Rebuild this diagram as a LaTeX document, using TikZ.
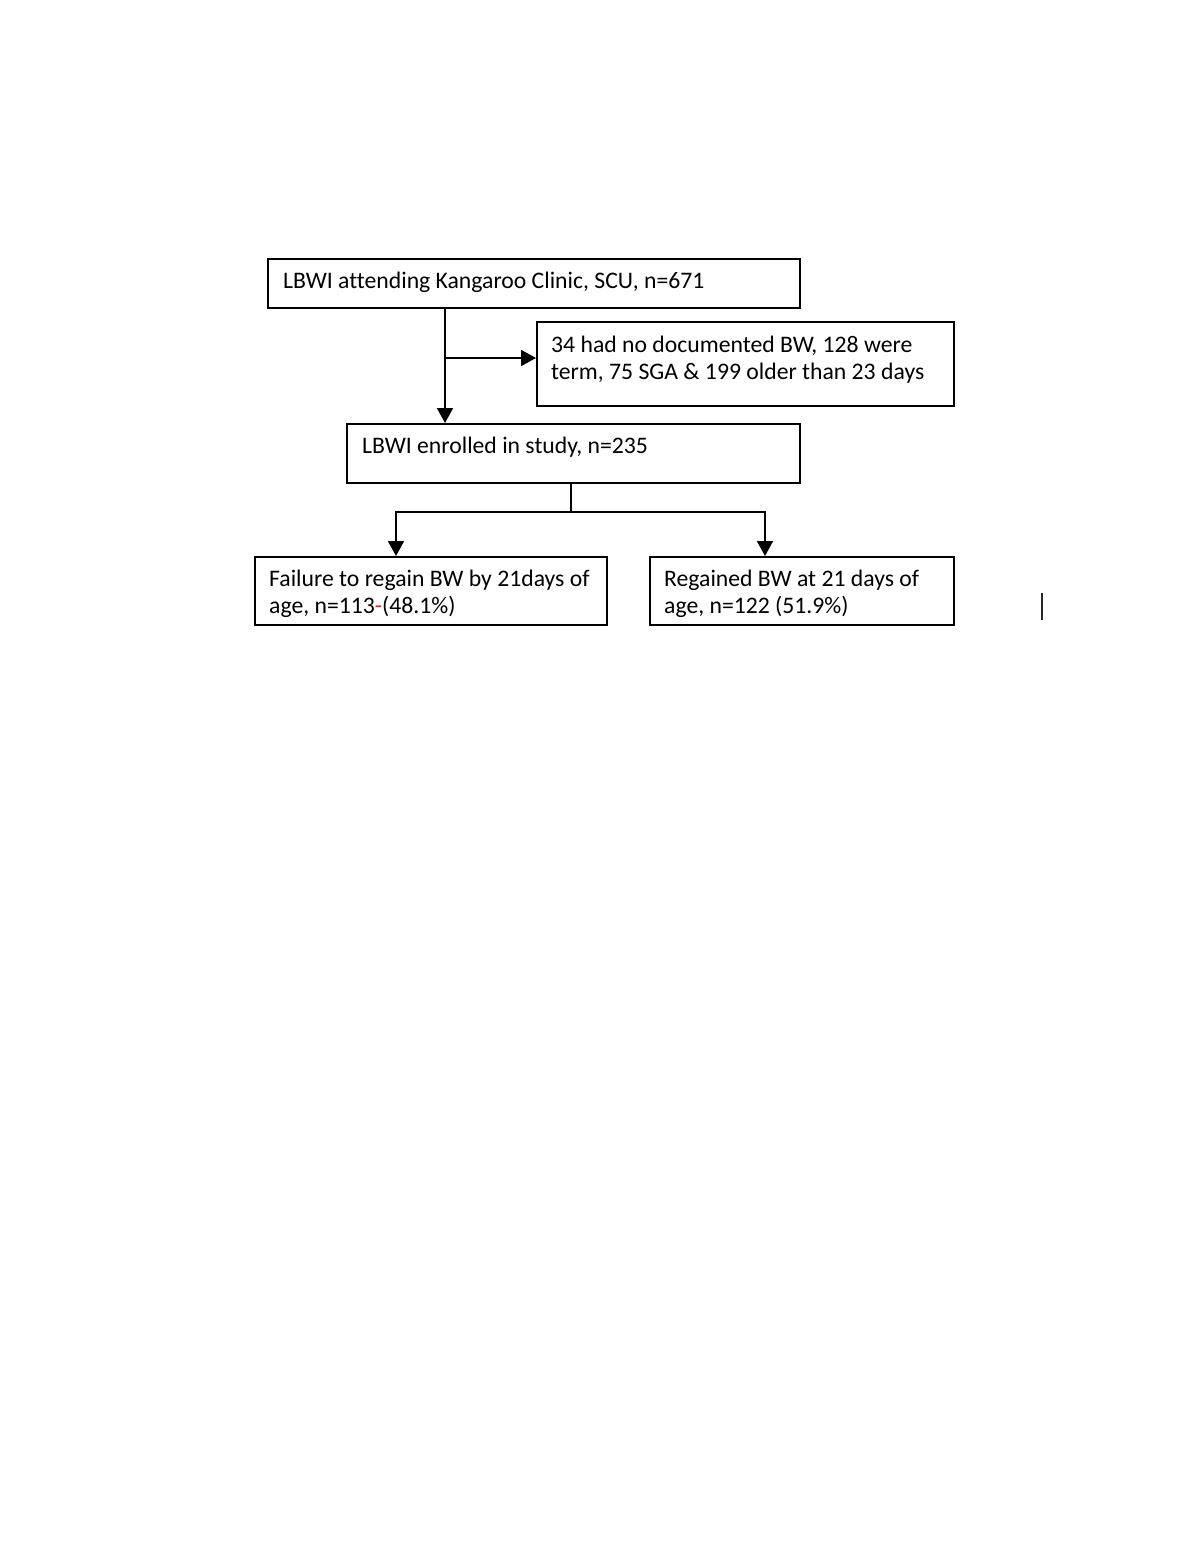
\documentclass[tikz,border=0pt]{standalone}
\usepackage{fontspec}
\setmainfont{Carlito}[Ligatures=NoCommon]
\usetikzlibrary{arrows.meta}
\definecolor{markred}{RGB}{215,40,30}
\definecolor{cursorgray}{RGB}{40,40,40}
\begin{document}
\begin{tikzpicture}[x=1pt,y=-1pt,
  box/.style={draw, line width=1.8pt, anchor=north west, inner sep=0pt},
  txt/.style={anchor=base west, inner sep=0pt, align=left, font=\fontsize{23.7}{27}\selectfont},
  arr/.style={line width=1.8pt, -{Triangle[length=15pt,width=16pt]}},
  conn/.style={line width=1.8pt}]
\fill[white] (0,0) rectangle (1200,1553);
\useasboundingbox (0,0) rectangle (1200,1553);

\node[box, minimum width=532pt, minimum height=49pt] (b1) at (267,258) {};
\node[box, minimum width=417pt, minimum height=84pt] (b2) at (536,321) {};
\node[box, minimum width=453pt, minimum height=59pt] (b3) at (346,423) {};
\node[box, minimum width=352pt, minimum height=68pt] (b4) at (254,556) {};
\node[box, minimum width=304pt, minimum height=68pt] (b5) at (649,556) {};

\node[txt] (t1) at (283,288) {LBWI attending Kangaroo Clinic, SCU, n=671};
\node[txt] (t2) at (551,379) {34 had no documented BW, 128 were\\term, 75 SGA \& 199 older than 23 days};
\node[txt] (t3) at (362,453) {LBWI enrolled in study, n=235};
\node[txt] (t4) at (269,613) {Failure to regain BW by 21days of\\age, n=113{\color{markred}-}(48.1\%)};
\node[txt] (t5) at (664,613) {Regained BW at 21 days of\\age, n=122 (51.9\%)};

\coordinate (j1) at (445,358);
\coordinate (j2) at (571,512);
\coordinate (c4) at (396,512);
\coordinate (c5) at (765,512);

\draw[arr] (b1.south -| j1) -- (b3.north -| j1);
\draw[arr] (j1) -- (b2.west |- j1);
\draw[conn] (b3.south -| j2) -- (j2);
\draw[arr] (j2) -- (c4) -- (b4.north -| c4);
\draw[arr] (j2) -- (c5) -- (b5.north -| c5);

\draw[cursorgray, line width=2pt] (1042,593) -- (1042,620);
\end{tikzpicture}
\end{document}
